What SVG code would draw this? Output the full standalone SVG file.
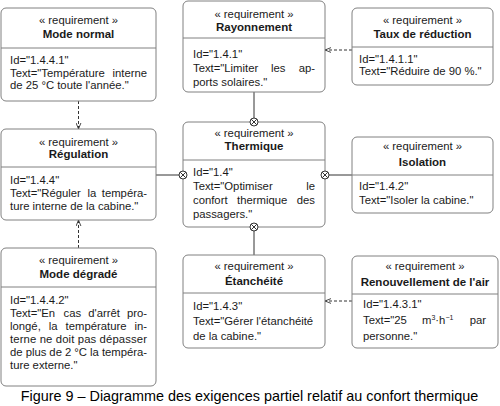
<svg xmlns="http://www.w3.org/2000/svg" width="500" height="406" viewBox="0 0 500 406">
<style>
.bx{fill:#fff;stroke:#808080;stroke-width:1}
.dv{stroke:#808080;stroke-width:1}
text{font-family:"Liberation Sans",Arial,sans-serif;fill:#1a1a1a}
.st{font-size:11.3px;text-anchor:middle}
.nm{font-size:11.5px;font-weight:bold;text-anchor:middle}
.tx{font-size:11.3px}
.e{text-anchor:end}
.cn{stroke:#333;stroke-width:1;fill:none}
.dsh{stroke-dasharray:3,2}
.cap{font-size:14.4px;text-anchor:middle;fill:#000}
</style>
<defs>
<marker id="arr" viewBox="0 0 10 10" refX="10" refY="5" markerWidth="6" markerHeight="6" orient="auto" markerUnits="userSpaceOnUse">
<path d="M0,1 L10,5 L0,9" fill="none" stroke="#333" stroke-width="1.5"/>
</marker>
<g id="ox">
<circle r="4" fill="#fff" stroke="#333" stroke-width="1"/>
<path d="M-2.8,-2.8 L2.8,2.8 M-2.8,2.8 L2.8,-2.8" stroke="#333" stroke-width="1"/>
</g>
</defs>
<rect width="500" height="406" fill="#fff"/>

<g id="connectors">
<line class="cn dsh" x1="78.5" y1="101" x2="78.5" y2="129" marker-end="url(#arr)"/>
<line class="cn dsh" x1="78.5" y1="248" x2="78.5" y2="220" marker-end="url(#arr)"/>
<line class="cn dsh" x1="352" y1="50" x2="325" y2="50" marker-end="url(#arr)"/>
<line class="cn dsh" x1="352" y1="301" x2="325" y2="301" marker-end="url(#arr)"/>
<line class="cn" x1="254" y1="92" x2="254" y2="118"/>
<line class="cn" x1="156" y1="175" x2="179" y2="175"/>
<line class="cn" x1="329" y1="175" x2="352" y2="175"/>
<line class="cn" x1="254" y1="231" x2="254" y2="255"/>
</g>

<g id="mode-normal">
<rect class="bx" x="1" y="8" width="155" height="93" rx="5"/>
<line class="dv" x1="1" y1="48" x2="156" y2="48"/>
<text class="st" x="78.5" y="24">« requirement »</text>
<text class="nm" x="78.5" y="38">Mode normal</text>
<text class="tx" x="10" y="64">Id="1.4.4.1"</text>
<text class="tx" x="10" y="77">Text="Température</text>
<text class="tx e" x="147" y="77">interne</text>
<text class="tx" x="10" y="89">de 25 °C toute l'année."</text>
</g>

<g id="rayonnement">
<rect class="bx" x="183" y="1" width="142" height="91" rx="5"/>
<line class="dv" x1="183" y1="38" x2="325" y2="38"/>
<text class="st" x="254" y="18">« requirement »</text>
<text class="nm" x="254" y="31">Rayonnement</text>
<text class="tx" x="193" y="58">Id="1.4.1"</text>
<text class="tx" x="193" y="72">Text="Limiter</text>
<text class="tx" x="271" y="72">les</text>
<text class="tx e" x="315" y="72">ap-</text>
<text class="tx" x="193" y="86">ports solaires."</text>
</g>

<g id="taux-reduction">
<rect class="bx" x="352" y="8" width="141" height="77" rx="5"/>
<line class="dv" x1="352" y1="47" x2="493" y2="47"/>
<text class="st" x="422.5" y="24">« requirement »</text>
<text class="nm" x="422.5" y="38">Taux de réduction</text>
<text class="tx" x="359" y="63">Id="1.4.1.1"</text>
<text class="tx" x="359" y="75">Text="Réduire de 90 %."</text>
</g>

<g id="regulation">
<rect class="bx" x="1" y="129" width="155" height="91" rx="5"/>
<line class="dv" x1="1" y1="167" x2="156" y2="167"/>
<text class="st" x="78.5" y="146">« requirement »</text>
<text class="nm" x="78.5" y="158">Régulation</text>
<text class="tx" x="10" y="184">Id="1.4.4"</text>
<text class="tx" x="10" y="197">Text="Réguler</text>
<text class="tx" x="87.5" y="197">la</text>
<text class="tx e" x="147" y="197">tempéra-</text>
<text class="tx" x="10" y="210">ture interne de la cabine."</text>
</g>

<g id="thermique">
<rect class="bx" x="183" y="122" width="142" height="105" rx="5"/>
<line class="dv" x1="183" y1="160" x2="325" y2="160"/>
<text class="st" x="254" y="137">« requirement »</text>
<text class="nm" x="254" y="150">Thermique</text>
<text class="tx" x="193" y="176">Id="1.4"</text>
<text class="tx" x="193" y="190">Text="Optimiser</text>
<text class="tx e" x="315" y="190">le</text>
<text class="tx" x="193" y="204">confort</text>
<text class="tx" x="237" y="204">thermique</text>
<text class="tx e" x="315" y="204">des</text>
<text class="tx" x="193" y="218">passagers."</text>
<use href="#ox" x="254" y="122"/>
<use href="#ox" x="183" y="175"/>
<use href="#ox" x="325" y="175"/>
<use href="#ox" x="254" y="227"/>
</g>

<g id="isolation">
<rect class="bx" x="352" y="137" width="141" height="76" rx="5"/>
<line class="dv" x1="352" y1="175" x2="493" y2="175"/>
<text class="st" x="422.5" y="150">« requirement »</text>
<text class="nm" x="422.5" y="166">Isolation</text>
<text class="tx" x="359" y="190">Id="1.4.2"</text>
<text class="tx" x="359" y="204">Text="Isoler la cabine."</text>
</g>

<g id="mode-degrade">
<rect class="bx" x="1" y="248" width="155" height="138" rx="5"/>
<line class="dv" x1="1" y1="287" x2="156" y2="287"/>
<text class="st" x="78.5" y="264">« requirement »</text>
<text class="nm" x="78.5" y="278">Mode dégradé</text>
<text class="tx" x="10" y="304">Id="1.4.4.2"</text>
<text class="tx" x="10" y="317">Text="En</text>
<text class="tx" x="63.5" y="317">cas</text>
<text class="tx" x="88.2" y="317">d'arrêt</text>
<text class="tx e" x="147" y="317">pro-</text>
<text class="tx" x="10" y="330">longé,</text>
<text class="tx" x="48.8" y="330">la</text>
<text class="tx" x="65.6" y="330">température</text>
<text class="tx e" x="147" y="330">in-</text>
<text class="tx" x="10" y="343" textLength="137" lengthAdjust="spacing">terne ne doit pas dépasser</text>
<text class="tx" x="10" y="356" textLength="137" lengthAdjust="spacing">de plus de 2 °C la tempéra-</text>
<text class="tx" x="10" y="369">ture externe."</text>
</g>

<g id="etancheite">
<rect class="bx" x="183" y="255" width="142" height="93" rx="5"/>
<line class="dv" x1="183" y1="293" x2="325" y2="293"/>
<text class="st" x="254" y="270">« requirement »</text>
<text class="nm" x="254" y="285">Étanchéité</text>
<text class="tx" x="193" y="310">Id="1.4.3"</text>
<text class="tx" x="193" y="325">Text="Gérer l'étanchéité</text>
<text class="tx" x="193" y="340">de la cabine."</text>
</g>

<g id="renouvellement-air">
<rect class="bx" x="352" y="256" width="146" height="92" rx="5"/>
<line class="dv" x1="352" y1="294" x2="498" y2="294"/>
<text class="st" x="425" y="270">« requirement »</text>
<text class="nm" x="425" y="286">Renouvellement de l'air</text>
<text class="tx" x="363" y="308">Id="1.4.3.1"</text>
<text class="tx" x="363" y="324">Text="25</text>
<text class="tx" x="422" y="324">m<tspan font-size="7" dy="-4">3</tspan><tspan dy="4">·h</tspan><tspan font-size="7" dy="-4">−1</tspan></text>
<text class="tx e" x="486" y="324">par</text>
<text class="tx" x="363" y="340">personne."</text>
</g>

<text class="cap" x="249.5" y="401">Figure 9 – Diagramme des exigences partiel relatif au confort thermique</text>
</svg>
